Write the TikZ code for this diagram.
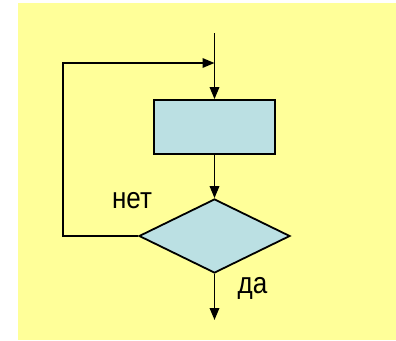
\documentclass[tikz,border=0pt]{standalone}
\usepackage{fontspec}
\setmainfont{Liberation Sans}
\usetikzlibrary{arrows.meta,shapes.geometric}
\definecolor{bgyellow}{HTML}{FFFF99}
\definecolor{boxblue}{HTML}{BBE0E3}
\tikzset{
  flow/.style={line width=1.8pt, -{Triangle[length=12pt,width=9.5pt]}},
  procbox/.style={draw, line width=1.8pt, fill=boxblue, minimum width=121pt, minimum height=54pt, inner sep=0pt},
  decbox/.style={draw, diamond, line width=1.8pt, fill=boxblue, minimum width=151pt, minimum height=74pt, inner sep=0pt},
  lbl/.style={font=\fontsize{26}{28}\selectfont, inner sep=0pt, anchor=base}
}
\begin{document}
\begin{tikzpicture}[x=1pt,y=-1pt]
\useasboundingbox (0,0) rectangle (396,340);
\fill[bgyellow] (18,3) rectangle (396,340);
\node[procbox] (proc) at (214.5,127) {};
\node[decbox] (dec) at (214.5,236) {};
\coordinate (start) at (214.5,33);
\coordinate (join) at (214.5,63);
\coordinate (end) at (214.5,320);
\coordinate (cornerA) at (63,236);
\coordinate (cornerB) at (63,63);
\draw[flow] (start) -- (proc.north);
\draw[flow] (proc.south) -- (dec.north);
\draw[flow] (dec.south) -- (end);
\draw[flow] (dec.west) -- (cornerA) -- (cornerB) -- (join);
\node[lbl] (no) at (132,208) {\scalebox{1}[1.15]{нет}};
\node[lbl] (yes) at (252.5,293) {\scalebox{1}[1.15]{да}};
\end{tikzpicture}
\end{document}
